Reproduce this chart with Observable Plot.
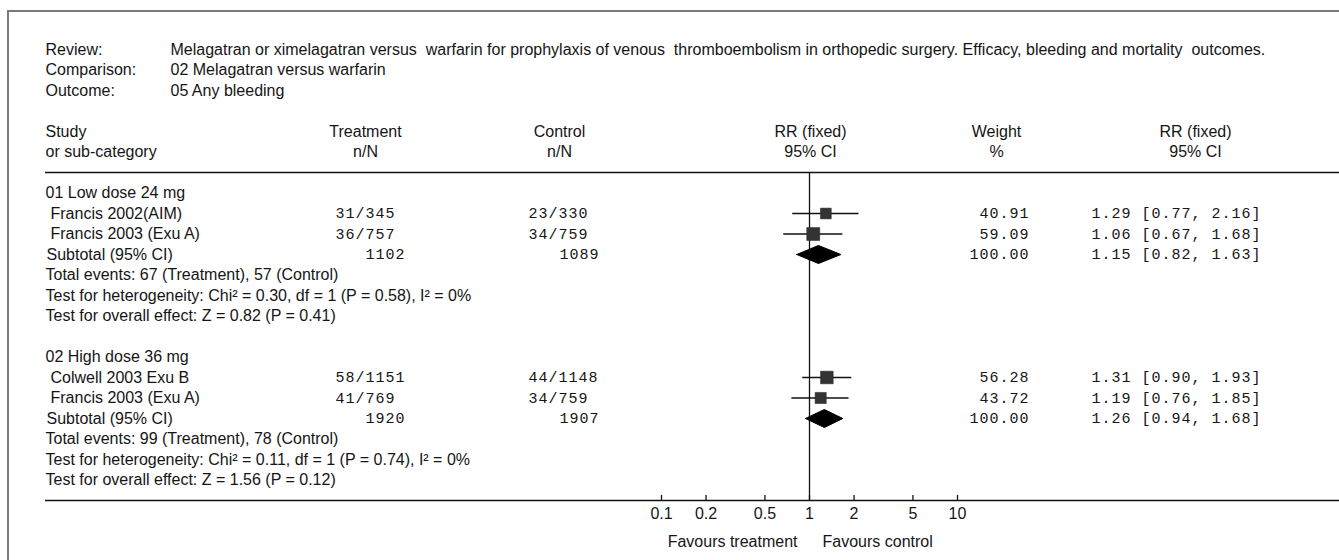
<!DOCTYPE html>
<html>
<head>
<meta charset="utf-8">
<script src="https://cdn.jsdelivr.net/npm/d3@7"></script>
<script src="https://cdn.jsdelivr.net/npm/@observablehq/plot@0.6"></script>
<style>
  html, body { margin: 0; padding: 0; background: #fff; }
  #wrap { position: relative; width: 1339px; height: 560px; background: #fff; overflow: hidden; }
  #frame { position: absolute; left: 7px; top: 10px; right: -4px; bottom: -4px;
           border-left: 2px solid #7a7a7a; border-top: 2px solid #7a7a7a; pointer-events: none; }
  #chart svg text { white-space: pre; }
</style>
</head>
<body>
<div id="wrap"><div id="chart"></div><div id="frame"></div></div>
<script>
// ---------- data ----------
const reviewTitle = "Melagatran or ximelagatran versus  warfarin for prophylaxis of venous  thromboembolism in orthopedic surgery. Efficacy, bleeding and mortality  outcomes.";
const comparisonTitle = "02 Melagatran versus warfarin";
const outcomeTitle = "05 Any bleeding";

const groupNames = ["01 Low dose 24 mg", "02 High dose 36 mg"];
const studyNames = ["Francis 2002(AIM)", "Francis 2003 (Exu A)", "Colwell 2003 Exu B", "Francis 2003 (Exu A)"];
const studyGroup = [0, 0, 1, 1];
const treatmentEvents = ["31/345", "36/757", "58/1151", "41/769"];
const controlEvents = ["23/330", "34/759", "44/1148", "34/759"];
const weights = [40.91, 59.09, 56.28, 43.72];
const rr = [1.29, 1.06, 1.31, 1.19];
const rrLow = [0.77, 0.67, 0.90, 0.76];
const rrHigh = [2.16, 1.68, 1.93, 1.85];

const subtotalTreatmentN = [1102, 1920];
const subtotalControlN = [1089, 1907];
const subtotalWeight = [100.00, 100.00];
const subtotalRR = [1.15, 1.26];
const subtotalLow = [0.82, 0.94];
const subtotalHigh = [1.63, 1.68];
const totalEvents = ["Total events: 67 (Treatment), 57 (Control)", "Total events: 99 (Treatment), 78 (Control)"];
const heterogeneity = ["Test for heterogeneity: Chi\u00b2 = 0.30, df = 1 (P = 0.58), I\u00b2 = 0%",
                       "Test for heterogeneity: Chi\u00b2 = 0.11, df = 1 (P = 0.74), I\u00b2 = 0%"];
const overallEffect = ["Test for overall effect: Z = 0.82 (P = 0.41)", "Test for overall effect: Z = 1.56 (P = 0.12)"];
const axisTicks = [0.1, 0.2, 0.5, 1, 2, 5, 10];
const axisTickLabels = ["0.1", "0.2", "0.5", "1", "2", "5", "10"];
const favours = ["Favours treatment", "Favours control"];

// ---------- layout ----------
const W = 1339, H = 560;
const mL = 45, mR = 0, mT = 172, mB = 60;
const onePx = 809, decadePx = 148;           // pixel of RR = 1 and width of one decade
const xDomain = [10 ** ((mL - onePx) / decadePx), 10 ** ((W - mR - onePx) / decadePx)];
const rowsPerGroup = 8;
const SANS = "Liberation Sans, Arial, Helvetica, sans-serif";
const MONO = "Courier New, Liberation Mono, monospace";
const FS = 16, MFS = 15;

// ---------- derived tables ----------
const studies = studyNames.map((name, i) => {
  const g = studyGroup[i];
  const k = studyGroup.slice(0, i).filter(v => v === g).length;
  return {name, row: g * rowsPerGroup + 1 + k, t: treatmentEvents[i], c: controlEvents[i],
          w: weights[i], rr: rr[i], lo: rrLow[i], hi: rrHigh[i]};
});
const nInGroup = g => studyGroup.filter(v => v === g).length;
const groups = groupNames.map((name, g) => {
  const base = g * rowsPerGroup;
  const sub = base + 1 + nInGroup(g);
  return {name, base, sub, tN: subtotalTreatmentN[g], cN: subtotalControlN[g], w: subtotalWeight[g],
          rr: subtotalRR[g], lo: subtotalLow[g], hi: subtotalHigh[g],
          ev: totalEvents[g], het: heterogeneity[g], ov: overallEffect[g]};
});
const diamonds = groups.flatMap((g, i) => [
  {g: i, x: g.lo, y: g.sub}, {g: i, x: g.rr, y: g.sub - 0.44},
  {g: i, x: g.hi, y: g.sub}, {g: i, x: g.rr, y: g.sub + 0.44}, {g: i, x: g.lo, y: g.sub}
]);
const ci = d => `${d.rr.toFixed(2)} [${d.lo.toFixed(2)}, ${d.hi.toFixed(2)}]`;
const tickTable = axisTicks.map((v, i) => ({v, label: axisTickLabels[i]}));

const headerRows = [
  {row: -7, a: "Review:", b: reviewTitle},
  {row: -6, a: "Comparison:", b: comparisonTitle},
  {row: -5, a: "Outcome:", b: outcomeTitle}
];
const colHead = [
  {row: -3, study: "Study", t: "Treatment", c: "Control", rr: "RR (fixed)", w: "Weight", rr2: "RR (fixed)"},
  {row: -2, study: "or sub-category", t: "n/N", c: "n/N", rr: "95% CI", w: "%", rr2: "95% CI"}
];

const txt = (data, opts) => Plot.text(data, {frameAnchor: "left", textAnchor: "start", fontFamily: SANS, fontSize: FS, fill: "#151515", ...opts});
const mono = (data, opts) => Plot.text(data, {frameAnchor: "left", textAnchor: "start", fontFamily: MONO, fontSize: MFS, fill: "#151515", ...opts});

const chart = Plot.plot({
  width: W, height: H,
  marginLeft: mL, marginRight: mR, marginTop: mT, marginBottom: mB,
  style: {background: "transparent", fontFamily: SANS, fontSize: FS + "px", color: "#151515", overflow: "visible"},
  x: {type: "log", domain: xDomain, axis: null},
  y: {domain: [-1, 15], reverse: true, axis: null},
  r: {type: "sqrt", domain: [0, 100], range: [0, 9.5]},
  marks: [
    // header block
    txt(headerRows, {y: "row", text: "a"}),
    txt(headerRows, {y: "row", text: "b", dx: 125}),
    txt(colHead, {y: "row", text: "study"}),
    txt(colHead, {y: "row", text: "t", textAnchor: "middle", dx: 320}),
    txt(colHead, {y: "row", text: "c", textAnchor: "middle", dx: 514}),
    txt(colHead, {y: "row", text: "rr", textAnchor: "middle", dx: 765}),
    txt(colHead, {y: "row", text: "w", textAnchor: "middle", dx: 951}),
    txt(colHead, {y: "row", text: "rr2", textAnchor: "middle", dx: 1150}),
    Plot.ruleY([-1, 15], {stroke: "#111", strokeWidth: 1.3}),
    // line of no effect
    Plot.ruleX([1], {stroke: "#111", strokeWidth: 1.3}),
    // group labels and stats
    txt(groups, {y: "base", text: "name"}),
    txt(groups, {y: "sub", text: () => "Subtotal (95% CI)", dx: 1}),
    txt(groups, {y: d => d.sub + 1, text: "ev"}),
    txt(groups, {y: d => d.sub + 2, text: "het"}),
    txt(groups, {y: d => d.sub + 3, text: "ov"}),
    mono(groups, {y: "sub", text: d => String(d.tN), textAnchor: "end", dx: 360}),
    mono(groups, {y: "sub", text: d => String(d.cN), textAnchor: "end", dx: 554}),
    mono(groups, {y: "sub", text: d => d.w.toFixed(2), textAnchor: "end", dx: 984}),
    mono(groups, {y: "sub", text: ci, dx: 1046}),
    // studies
    txt(studies, {y: "row", text: "name", dx: 5}),
    mono(studies, {y: "row", text: "t", dx: 290}),
    mono(studies, {y: "row", text: "c", dx: 483}),
    mono(studies, {y: "row", text: d => d.w.toFixed(2), textAnchor: "end", dx: 984}),
    mono(studies, {y: "row", text: ci, dx: 1046}),
    // forest marks
    Plot.ruleY(studies, {y: "row", x1: "lo", x2: "hi", stroke: "#111", strokeWidth: 1.3}),
    Plot.dot(studies, {x: "rr", y: "row", r: "w", symbol: "square", fill: "#333", stroke: "#222", strokeWidth: 0.5}),
    Plot.line(diamonds, {x: "x", y: "y", z: "g", fill: "#000", stroke: "#000", strokeWidth: 1, curve: "linear"}),
    // axis
    Plot.ruleX(tickTable, {x: "v", y1: 14.75, y2: 15.05, stroke: "#111", strokeWidth: 1.3}),
    Plot.text(tickTable, {x: "v", y: 15, dy: 13, text: "label", textAnchor: "middle", fontFamily: SANS, fontSize: FS, fill: "#151515"}),
    Plot.text([favours[0]], {x: 1, y: 17, text: d => d, textAnchor: "end", dx: -12, fontFamily: SANS, fontSize: FS, fill: "#151515"}),
    Plot.text([favours[1]], {x: 1, y: 17, text: d => d, textAnchor: "start", dx: 13, fontFamily: SANS, fontSize: FS, fill: "#151515"})
  ]
});
d3.select(chart).selectAll('g[font-family^="Courier"]').attr("letter-spacing", "1px");
document.getElementById("chart").appendChild(chart);
</script>
</body>
</html>
